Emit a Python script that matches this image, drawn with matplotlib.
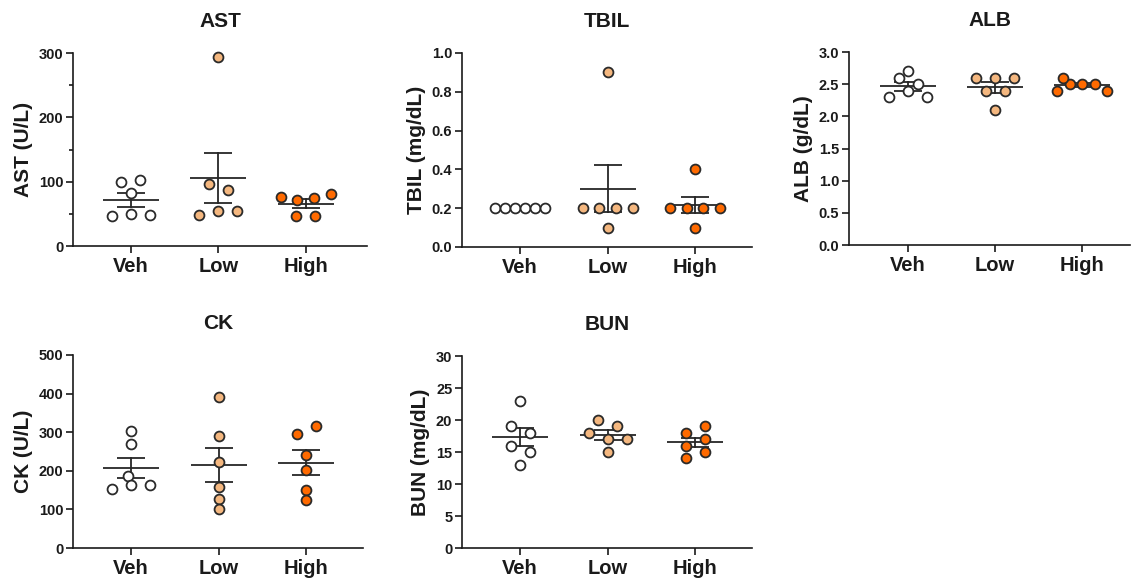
import numpy as np
import matplotlib
matplotlib.use("Agg")
import matplotlib.pyplot as plt
from matplotlib.ticker import MultipleLocator, FormatStrFormatter

plt.rcParams['font.family'] = ['Liberation Sans', 'DejaVu Sans']
plt.rcParams['font.weight'] = 'bold'
plt.rcParams['axes.titleweight'] = 'bold'
plt.rcParams['axes.labelweight'] = 'bold'

# ---------------- data ----------------
groups = ["Veh", "Low", "High"]
group_colors = ["#FFFFFF", "#F4B77F", "#FF6A00"]

ast_veh = [100, 103, 82, 46, 50, 48]
ast_low = [294, 97, 86.5, 48, 55, 54]
ast_high = [76, 72, 75, 81, 46, 46]

tbil_veh = [0.2, 0.2, 0.2, 0.2, 0.2, 0.2]
tbil_low = [0.2, 0.2, 0.2, 0.2, 0.1, 0.9]
tbil_high = [0.2, 0.2, 0.2, 0.2, 0.1, 0.4]

alb_veh = [2.6, 2.7, 2.3, 2.4, 2.5, 2.3]
alb_low = [2.6, 2.6, 2.6, 2.4, 2.4, 2.1]
alb_high = [2.4, 2.5, 2.5, 2.5, 2.6, 2.4]

ck_veh = [302, 269, 186, 152, 164, 164]
ck_low = [390, 291, 223, 157, 128, 100]
ck_high = [295, 316, 240, 203, 150, 125]

bun_veh = [23, 19, 18, 16, 15, 13]
bun_low = [18, 20, 19, 17, 17, 15]
bun_high = [18, 19, 16, 17, 14, 15]

titles = ["AST", "TBIL", "ALB", "CK", "BUN"]
ylabels = ["AST (U/L)", "TBIL (mg/dL)", "ALB (g/dL)", "CK (U/L)", "BUN (mg/dL)"]
ymaxes = [300, 1.0, 3.0, 500, 30]
ysteps = [100, 0.2, 0.5, 100, 5]
yfmts = ["%d", "%.1f", "%.1f", "%d", "%d"]
series = [
    [ast_veh, ast_low, ast_high],
    [tbil_veh, tbil_low, tbil_high],
    [alb_veh, alb_low, alb_high],
    [ck_veh, ck_low, ck_high],
    [bun_veh, bun_low, bun_high],
]

# ---------------- layout (pixels) ----------------
W, H = 1135, 582
boxes = [(73, 367, 53, 246), (462, 752, 53, 247), (849, 1130, 52, 245),
         (73, 363, 355, 548), (462, 752, 356, 548)]
xlims = [(-0.663, 2.70), (-0.663, 2.65), (-0.678, 2.55),
         (-0.663, 2.65), (-0.663, 2.65)]
minor_steps = [50, None, None, None, None]

DIAM = 9.5      # marker diameter in px
SMAX = 19.0     # max horizontal spacing within a row, px
WMAX = 50.0     # max row width, px


def swarm_offsets(vals, ppu_y):
    vals = np.asarray(vals, dtype=float)
    order = np.argsort(vals, kind="stable")
    rows, cur = [], [order[0]]
    for i in order[1:]:
        if (vals[i] - vals[cur[0]]) * ppu_y < DIAM:
            cur.append(i)
        else:
            rows.append(cur)
            cur = [i]
    rows.append(cur)
    offs = np.zeros(len(vals))
    placed = []
    for row in rows:
        row = sorted(row)
        n = len(row)
        s = min(SMAX, WMAX / (n - 1)) if n > 1 else 0.0
        pos = (np.arange(n) - (n - 1) / 2.0) * s
        for k, i in enumerate(row):
            y = vals[i] * ppu_y
            target = pos[k]
            cands = np.arange(-60, 60.01, 0.25)
            cands = cands[np.argsort(np.abs(cands - target), kind="stable")]
            cands = np.concatenate([[target], cands])
            for c in cands:
                ok = all((c - px) ** 2 + (y - py) ** 2 >= (0.95 * DIAM) ** 2 for px, py in placed)
                if ok:
                    offs[i] = c
                    placed.append((c, y))
                    break
    return offs


fig = plt.figure(figsize=(W / 100, H / 100), dpi=100)
LINE_C = "#262626"
for p in range(5):
    l, r, t, b = boxes[p]
    ax = fig.add_axes([l / W, 1 - b / H, (r - l) / W, (b - t) / H])
    xl = xlims[p]
    ymax = ymaxes[p]
    ax.set_xlim(*xl)
    ax.set_ylim(0, ymax)
    ppx = (r - l) / (xl[1] - xl[0])
    ppu_y = (b - t) / ymax
    for gi, vals in enumerate(series[p]):
        v = np.asarray(vals, dtype=float)
        m = v.mean()
        se = v.std(ddof=1) / np.sqrt(len(v))
        ax.plot([gi - 28 / ppx, gi + 28 / ppx], [m, m], color=LINE_C, lw=1.3, zorder=2, solid_capstyle='butt')
        ax.plot([gi, gi], [m - se, m + se], color=LINE_C, lw=1.3, zorder=2)
        for yv in (m - se, m + se):
            ax.plot([gi - 14 / ppx, gi + 14 / ppx], [yv, yv], color=LINE_C, lw=1.3, zorder=2, solid_capstyle='butt')
        offs = swarm_offsets(v, ppu_y) / ppx
        ax.plot(gi + offs, v, linestyle="none", marker="o", ms=7.1, mew=1.3,
                mec="#2a2a2a", mfc=group_colors[gi], zorder=3, clip_on=False)

    for sp in ("top", "right"):
        ax.spines[sp].set_visible(False)
    for sp in ("left", "bottom"):
        ax.spines[sp].set_linewidth(1.2)
        ax.spines[sp].set_color("#1a1a1a")
    ax.set_xticks(range(len(groups)))
    ax.set_xticklabels(groups)
    ax.yaxis.set_major_locator(MultipleLocator(ysteps[p]))
    ax.yaxis.set_major_formatter(FormatStrFormatter(yfmts[p]))
    if minor_steps[p]:
        ax.yaxis.set_minor_locator(MultipleLocator(minor_steps[p]))
    ax.tick_params(axis="y", which="major", length=5, width=1.2, labelsize=10.5, pad=2, colors="#1a1a1a")
    ax.tick_params(axis="y", which="minor", length=3, width=1.2, colors="#1a1a1a")
    ax.tick_params(axis="x", length=5, width=1.2, labelsize=14.5, pad=3, colors="#1a1a1a")
    ax.set_ylabel(ylabels[p], fontsize=15, labelpad=4, color="#1a1a1a")
    ax.set_title(titles[p], fontsize=15, pad=19, color="#1a1a1a")

fig.savefig("out.png", dpi=100)
